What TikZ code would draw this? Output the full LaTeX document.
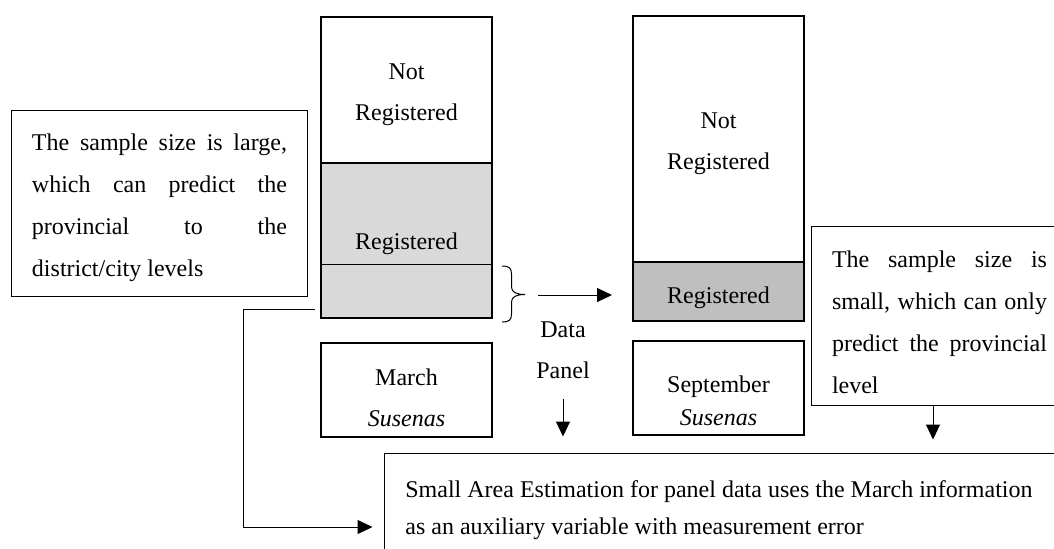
\documentclass[tikz,border=0pt]{standalone}
\usepackage{fontspec}
\setmainfont{Liberation Serif}
\usetikzlibrary{arrows.meta}
\definecolor{reglight}{HTML}{D9D9D9}
\definecolor{regdark}{HTML}{BFBFBF}
\newcommand\parafont{\fontsize{12}{21}\selectfont\hyphenpenalty=10000 \tolerance=10000 }
\tikzset{
  colbox/.style={draw, line width=1pt, minimum width=85.5pt, inner sep=0pt},
  txtbox/.style={draw, line width=0.5pt, inner sep=0pt},
  lbl/.style={inner sep=0pt, align=center, font=\fontsize{12}{20.5}\selectfont},
  para/.style={inner sep=0pt, align=justify, font=\parafont},
  arr/.style={-{Triangle[length=7.5pt,width=7pt]}, line width=0.5pt}
}
\begin{document}
\begin{tikzpicture}[x=0.5pt, y=-0.5pt]
\useasboundingbox (0,0) rectangle (1054,548);
\clip (0,0) rectangle (1054,548);
\node[txtbox, minimum width=148pt, minimum height=93pt] (bigbox) at (159,203) {};
\node[para, text width=127.5pt] (bigtxt) at (159.5,208) {The sample size is large,\linebreak which can predict the\linebreak provincial to the\linebreak district/city levels};
\node[colbox, minimum height=73pt] (notreg1) at (406.5,90) {};
\node[colbox, fill=reglight, minimum height=77.5pt] (reg1) at (406.5,240.5) {};
\coordinate (cut1) at (406.5,264);
\draw[line width=0.5pt] (reg1.west |- cut1) -- (reg1.east |- cut1);
\node[lbl] (notreg1txt) at (406.5,95) {Not\\Registered};
\node[lbl] (reg1txt) at (406.5,244) {Registered};
\node[colbox, minimum height=123pt] (notreg2) at (718.5,139) {};
\node[colbox, fill=regdark, minimum height=29.5pt] (reg2) at (718.5,291.5) {};
\node[lbl] (notreg2txt) at (718.5,144) {Not\\Registered};
\node[lbl] (reg2txt) at (718.5,298) {Registered};
\node[colbox, minimum height=47pt] (marbox) at (406.5,390) {};
\node[lbl] (martxt) at (406.5,398) {March\\\textit{Susenas}};
\node[colbox, minimum height=47pt] (sepbox) at (718.5,387.5) {};
\node[lbl, font=\fontsize{12}{16.5}\selectfont] (septxt) at (718.5,401) {September\\\textit{Susenas}};
\node[txtbox, minimum width=122pt, minimum height=89.5pt] (smallbox) at (933,315.5) {};
\node[para, text width=107.5pt] (smalltxt) at (939.5,322.5) {The sample size is\linebreak small, which can only\linebreak predict the provincial\linebreak level};
\node[txtbox, minimum width=358pt, minimum height=74pt] (saebox) at (742,527) {};
\node[lbl, align=left, anchor=west, font=\fontsize{12}{18.5}\selectfont] (saetxt) at (405,510.5) {Small Area Estimation for panel data uses the March information\\as an auxiliary variable with measurement error};
\draw[line width=0.5pt] (502,266) .. controls (509,266) and (511.5,268) .. (511.5,274) -- (511.5,287)
  .. controls (511.5,292) and (516,294.5) .. (525,294.5) .. controls (516,294.5) and (511.5,297) .. (511.5,302)
  -- (511.5,314) .. controls (511.5,320) and (509,322) .. (502,322);
\coordinate (brtip) at (525,295);
\draw[arr, shorten <=6.5pt, shorten >=10pt] (brtip) -- (brtip -| reg2.west);
\node[lbl] (dpanel) at (563,350) {Data\\Panel};
\draw[arr, shorten <=10pt, shorten >=8pt] (dpanel.south) -- (dpanel.south |- saebox.north);
\draw[arr, shorten >=6.5pt] (smallbox.south) -- (smallbox.south |- saebox.north);
\coordinate (lstart) at (315,309);
\coordinate (lbend) at (243,309);
\draw[arr, shorten >=5.5pt] (lstart) -- (lbend) |- (saebox.west);
\end{tikzpicture}
\end{document}
